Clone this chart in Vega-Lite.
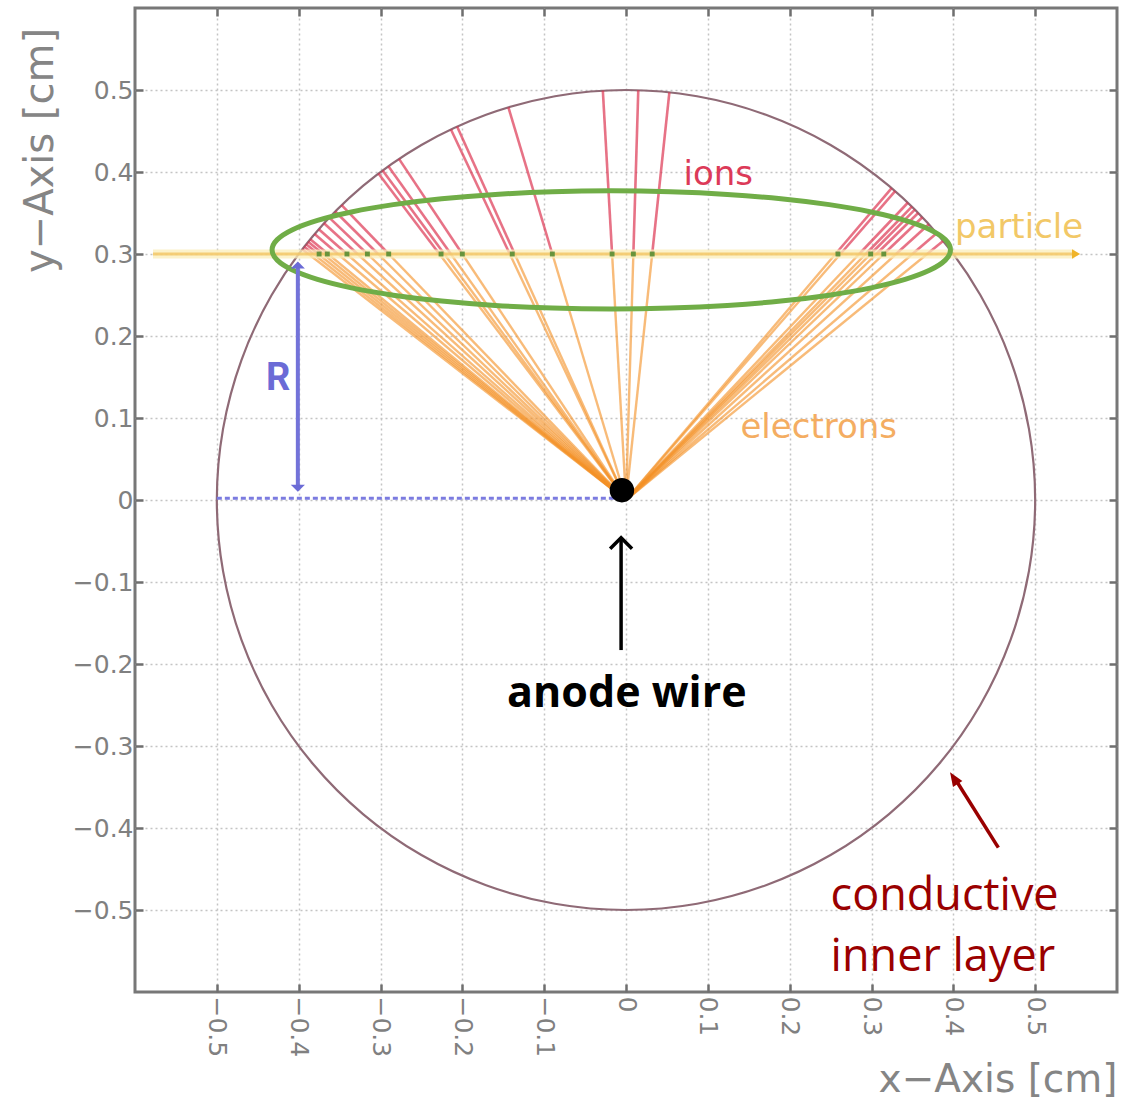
{
  "$schema": "https://vega.github.io/schema/vega-lite/v6.json",
  "width": 982,
  "height": 984,
  "autosize": {"type": "none"},
  "padding": {"left": 135, "top": 8, "right": 20, "bottom": 109},
  "background": "white",
  "config": {"view": {"stroke": "#777777", "strokeWidth": 3}},
  "datasets": {
    "circle": [
      {"i":0,"x":0.5,"y":0},{"i":10,"x":0.4924,"y":0.0868},{"i":20,"x":0.4698,"y":0.171},{"i":30,"x":0.433,"y":0.25},
      {"i":40,"x":0.383,"y":0.3214},{"i":50,"x":0.3214,"y":0.383},{"i":60,"x":0.25,"y":0.433},{"i":70,"x":0.171,"y":0.4698},
      {"i":80,"x":0.0868,"y":0.4924},{"i":90,"x":0,"y":0.5},{"i":100,"x":-0.0868,"y":0.4924},{"i":110,"x":-0.171,"y":0.4698},
      {"i":120,"x":-0.25,"y":0.433},{"i":130,"x":-0.3214,"y":0.383},{"i":140,"x":-0.383,"y":0.3214},{"i":150,"x":-0.433,"y":0.25},
      {"i":160,"x":-0.4698,"y":0.171},{"i":170,"x":-0.4924,"y":0.0868},{"i":180,"x":-0.5,"y":0},{"i":190,"x":-0.4924,"y":-0.0868},
      {"i":200,"x":-0.4698,"y":-0.171},{"i":210,"x":-0.433,"y":-0.25},{"i":220,"x":-0.383,"y":-0.3214},{"i":230,"x":-0.3214,"y":-0.383},
      {"i":240,"x":-0.25,"y":-0.433},{"i":250,"x":-0.171,"y":-0.4698},{"i":260,"x":-0.0868,"y":-0.4924},{"i":270,"x":0,"y":-0.5},
      {"i":280,"x":0.0868,"y":-0.4924},{"i":290,"x":0.171,"y":-0.4698},{"i":300,"x":0.25,"y":-0.433},{"i":310,"x":0.3214,"y":-0.383},
      {"i":320,"x":0.383,"y":-0.3214},{"i":330,"x":0.433,"y":-0.25},{"i":340,"x":0.4698,"y":-0.171},{"i":350,"x":0.4924,"y":-0.0868}
    ],
    "ellipse": [
      {"i":0,"x":0.3965,"y":0.305},{"i":10,"x":0.3902,"y":0.3175},{"i":20,"x":0.3715,"y":0.3296},{"i":30,"x":0.341,"y":0.341},
      {"i":40,"x":0.2995,"y":0.3513},{"i":50,"x":0.2484,"y":0.3602},{"i":60,"x":0.1893,"y":0.3674},{"i":70,"x":0.1238,"y":0.3727},
      {"i":80,"x":0.054,"y":0.3759},{"i":90,"x":-0.018,"y":0.377},{"i":100,"x":-0.09,"y":0.3759},{"i":110,"x":-0.1598,"y":0.3727},
      {"i":120,"x":-0.2253,"y":0.3674},{"i":130,"x":-0.2844,"y":0.3602},{"i":140,"x":-0.3355,"y":0.3513},{"i":150,"x":-0.377,"y":0.341},
      {"i":160,"x":-0.4075,"y":0.3296},{"i":170,"x":-0.4262,"y":0.3175},{"i":180,"x":-0.4325,"y":0.305},{"i":190,"x":-0.4262,"y":0.2925},
      {"i":200,"x":-0.4075,"y":0.2804},{"i":210,"x":-0.377,"y":0.269},{"i":220,"x":-0.3355,"y":0.2587},{"i":230,"x":-0.2844,"y":0.2498},
      {"i":240,"x":-0.2253,"y":0.2426},{"i":250,"x":-0.1598,"y":0.2373},{"i":260,"x":-0.09,"y":0.2341},{"i":270,"x":-0.018,"y":0.233},
      {"i":280,"x":0.054,"y":0.2341},{"i":290,"x":0.1238,"y":0.2373},{"i":300,"x":0.1893,"y":0.2426},{"i":310,"x":0.2484,"y":0.2498},
      {"i":320,"x":0.2995,"y":0.2587},{"i":330,"x":0.341,"y":0.269},{"i":340,"x":0.3715,"y":0.2804},{"i":350,"x":0.3902,"y":0.2925}
    ],
    "electrons": [
      {"x":0,"y":0,"x2":-0.388,"y2":0.3},{"x":0,"y":0,"x2":-0.382,"y2":0.3},{"x":0,"y":0,"x2":-0.376,"y2":0.3},
      {"x":0,"y":0,"x2":-0.37,"y2":0.3},{"x":0,"y":0,"x2":-0.364,"y2":0.3},{"x":0,"y":0,"x2":-0.352,"y2":0.3},
      {"x":0,"y":0,"x2":-0.341,"y2":0.3},{"x":0,"y":0,"x2":-0.328,"y2":0.3},{"x":0,"y":0,"x2":-0.316,"y2":0.3},
      {"x":0,"y":0,"x2":-0.303,"y2":0.3},{"x":0,"y":0,"x2":-0.29,"y2":0.3},{"x":0,"y":0,"x2":-0.228,"y2":0.3},
      {"x":0,"y":0,"x2":-0.222,"y2":0.3},{"x":0,"y":0,"x2":-0.214,"y2":0.3},{"x":0,"y":0,"x2":-0.2,"y2":0.3},
      {"x":0,"y":0,"x2":-0.142,"y2":0.3},{"x":0,"y":0,"x2":-0.136,"y2":0.3},{"x":0,"y":0,"x2":-0.09,"y2":0.3},
      {"x":0,"y":0,"x2":-0.017,"y2":0.3},{"x":0,"y":0,"x2":0.009,"y2":0.3},{"x":0,"y":0,"x2":0.032,"y2":0.3},
      {"x":0,"y":0,"x2":0.256,"y2":0.3},{"x":0,"y":0,"x2":0.262,"y2":0.3},{"x":0,"y":0,"x2":0.285,"y2":0.3},
      {"x":0,"y":0,"x2":0.293,"y2":0.3},{"x":0,"y":0,"x2":0.299,"y2":0.3},{"x":0,"y":0,"x2":0.306,"y2":0.3},
      {"x":0,"y":0,"x2":0.315,"y2":0.3},{"x":0,"y":0,"x2":0.33,"y2":0.3},{"x":0,"y":0,"x2":0.35,"y2":0.3},
      {"x":0,"y":0,"x2":0.368,"y2":0.3}
    ],
    "ions": [
      {"x":-0.388,"y":0.3,"x2":-0.3956,"y2":0.3058},{"x":-0.382,"y":0.3,"x2":-0.3932,"y2":0.3088},{"x":-0.376,"y":0.3,"x2":-0.3908,"y2":0.3118},
      {"x":-0.37,"y":0.3,"x2":-0.3884,"y2":0.3149},{"x":-0.364,"y":0.3,"x2":-0.3858,"y2":0.318},{"x":-0.352,"y":0.3,"x2":-0.3805,"y2":0.3243},
      {"x":-0.341,"y":0.3,"x2":-0.3754,"y2":0.3303},{"x":-0.328,"y":0.3,"x2":-0.369,"y2":0.3375},{"x":-0.316,"y":0.3,"x2":-0.3626,"y2":0.3443},
      {"x":-0.303,"y":0.3,"x2":-0.3553,"y2":0.3518},{"x":-0.29,"y":0.3,"x2":-0.3475,"y2":0.3595},{"x":-0.228,"y":0.3,"x2":-0.3025,"y2":0.3981},
      {"x":-0.222,"y":0.3,"x2":-0.2974,"y2":0.4019},{"x":-0.214,"y":0.3,"x2":-0.2904,"y2":0.407},{"x":-0.2,"y":0.3,"x2":-0.2774,"y2":0.416},
      {"x":-0.142,"y":0.3,"x2":-0.2139,"y2":0.4519},{"x":-0.136,"y":0.3,"x2":-0.2064,"y2":0.4554},{"x":-0.09,"y":0.3,"x2":-0.1437,"y2":0.4789},
      {"x":-0.017,"y":0.3,"x2":-0.0283,"y2":0.4992},{"x":0.009,"y":0.3,"x2":0.015,"y2":0.4998},{"x":0.032,"y":0.3,"x2":0.053,"y2":0.4972},
      {"x":0.256,"y":0.3,"x2":0.3246,"y2":0.3803},{"x":0.262,"y":0.3,"x2":0.3289,"y2":0.3766},{"x":0.285,"y":0.3,"x2":0.3444,"y2":0.3625},
      {"x":0.293,"y":0.3,"x2":0.3494,"y2":0.3577},{"x":0.299,"y":0.3,"x2":0.353,"y2":0.3541},{"x":0.306,"y":0.3,"x2":0.357,"y2":0.35},
      {"x":0.315,"y":0.3,"x2":0.3621,"y2":0.3448},{"x":0.33,"y":0.3,"x2":0.37,"y2":0.3363},{"x":0.35,"y":0.3,"x2":0.3796,"y2":0.3254},
      {"x":0.368,"y":0.3,"x2":0.3875,"y2":0.3159}
    ],
    "clusters": [
      {"x":-0.375,"y":0.3},{"x":-0.365,"y":0.3},{"x":-0.341,"y":0.3},{"x":-0.316,"y":0.3},{"x":-0.29,"y":0.3},
      {"x":-0.226,"y":0.3},{"x":-0.2,"y":0.3},{"x":-0.139,"y":0.3},{"x":-0.09,"y":0.3},{"x":-0.017,"y":0.3},
      {"x":0.009,"y":0.3},{"x":0.032,"y":0.3},{"x":0.259,"y":0.3},{"x":0.299,"y":0.3},{"x":0.315,"y":0.3}
    ]
  },
  "encoding": {
    "x": {"field": "x", "type": "quantitative", "scale": {"domain": [-0.6, 0.6], "nice": false, "zero": false}, "axis": null},
    "y": {"field": "y", "type": "quantitative", "scale": {"domain": [-0.6, 0.6], "nice": false, "zero": false}, "axis": null}
  },
  "layer": [
    {
      "data": {"name": "circle"},
      "mark": {"type": "line", "interpolate": "cardinal-closed", "stroke": "#8f6a76", "strokeWidth": 2.2},
      "encoding": {
        "order": {"field": "i", "type": "quantitative"},
        "x": {"field": "x", "type": "quantitative", "scale": {"domain": [-0.6, 0.6], "nice": false, "zero": false},
          "axis": {"orient": "bottom", "values": [-0.5,-0.4,-0.3,-0.2,-0.1,0,0.1,0.2,0.3,0.4,0.5], "format": ".1~f",
            "labelAngle": 90, "labelAlign": "left", "labelBaseline": "middle", "labelFont": "DejaVu Sans", "labelFontSize": 25,
            "labelColor": "#808080", "labelPadding": 12, "tickSize": -8, "tickWidth": 2.5, "tickColor": "#6f6f6f", "domain": false,
            "grid": true, "gridColor": "#c4c4c4", "gridDash": [2, 3], "gridWidth": 1.5,
            "title": "x−Axis [cm]", "titleFont": "DejaVu Sans", "titleFontSize": 39, "titleFontWeight": "normal", "titleColor": "#858585",
            "titleAnchor": "end", "titleAlign": "right", "titleBaseline": "alphabetic", "titleY": 99}},
        "y": {"field": "y", "type": "quantitative", "scale": {"domain": [-0.6, 0.6], "nice": false, "zero": false},
          "axis": {"orient": "left", "values": [-0.5,-0.4,-0.3,-0.2,-0.1,0,0.1,0.2,0.3,0.4,0.5], "format": ".1~f",
            "labelFont": "DejaVu Sans", "labelFontSize": 25, "labelColor": "#808080", "labelPadding": 10,
            "tickSize": -8, "tickWidth": 2.5, "tickColor": "#6f6f6f", "domain": false,
            "grid": true, "gridColor": "#c4c4c4", "gridDash": [2, 3], "gridWidth": 1.5,
            "title": "y−Axis [cm]", "titleFont": "DejaVu Sans", "titleFontSize": 40, "titleFontWeight": "normal", "titleColor": "#858585",
            "titleAngle": 270, "titleAlign": "center", "titleBaseline": "middle", "titleX": -95, "titleY": 142}}
      }
    },
    {
      "data": {"name": "electrons"},
      "mark": {"type": "rule", "stroke": "#f39226", "strokeWidth": 2.4, "strokeOpacity": 0.62},
      "encoding": {"x2": {"field": "x2"}, "y2": {"field": "y2"}}
    },
    {
      "data": {"name": "ions"},
      "mark": {"type": "rule", "stroke": "#dc2f4c", "strokeWidth": 2.6, "strokeOpacity": 0.68},
      "encoding": {"x2": {"field": "x2"}, "y2": {"field": "y2"}}
    },
    {
      "data": {"values": [{"x": -0.578, "y": 0.3, "x2": 0.548, "y2": 0.3}]},
      "mark": {"type": "rule", "stroke": "#fbeeb8", "strokeWidth": 9, "strokeOpacity": 0.75},
      "encoding": {"x2": {"field": "x2"}, "y2": {"field": "y2"}}
    },
    {
      "data": {"values": [{"x": -0.578, "y": 0.3, "x2": 0.548, "y2": 0.3}]},
      "mark": {"type": "rule", "stroke": "#f2c462", "strokeWidth": 3, "strokeOpacity": 0.8},
      "encoding": {"x2": {"field": "x2"}, "y2": {"field": "y2"}}
    },
    {
      "data": {"values": [{"x": 0.55, "y": 0.3}]},
      "mark": {"type": "point", "shape": "triangle-right", "filled": true, "color": "#f0b428", "size": 90, "opacity": 1}
    },
    {
      "data": {"name": "clusters"},
      "mark": {"type": "point", "shape": "square", "filled": true, "color": "#4f8a30", "size": 24, "opacity": 0.85},
      "encoding": {
        "x": {"field": "x", "type": "quantitative", "scale": {"domain": [-0.6, 0.6], "nice": false, "zero": false},
          "axis": {"orient": "top", "values": [-0.5,-0.4,-0.3,-0.2,-0.1,0,0.1,0.2,0.3,0.4,0.5], "labels": false, "grid": false,
            "domain": false, "tickSize": -8, "tickWidth": 2.5, "tickColor": "#6f6f6f", "title": null}},
        "y": {"field": "y", "type": "quantitative", "scale": {"domain": [-0.6, 0.6], "nice": false, "zero": false},
          "axis": {"orient": "right", "values": [-0.5,-0.4,-0.3,-0.2,-0.1,0,0.1,0.2,0.3,0.4,0.5], "labels": false, "grid": false,
            "domain": false, "tickSize": -8, "tickWidth": 2.5, "tickColor": "#6f6f6f", "title": null}}
      }
    },
    {
      "data": {"name": "ellipse"},
      "mark": {"type": "line", "interpolate": "cardinal-closed", "stroke": "#70ad47", "strokeWidth": 5},
      "encoding": {"order": {"field": "i", "type": "quantitative"}}
    },
    {
      "data": {"values": [{"x": -0.5, "y": 0.002, "x2": -0.006, "y2": 0.002}]},
      "mark": {"type": "rule", "stroke": "#7b7be0", "strokeWidth": 3, "strokeDash": [5, 3]},
      "encoding": {"x2": {"field": "x2"}, "y2": {"field": "y2"}}
    },
    {
      "data": {"values": [{"x": -0.401, "y": 0.285, "x2": -0.401, "y2": 0.016}]},
      "mark": {"type": "rule", "stroke": "#7373d9", "strokeWidth": 4},
      "encoding": {"x2": {"field": "x2"}, "y2": {"field": "y2"}}
    },
    {
      "data": {"values": [{"x": -0.401, "y": 0.291}]},
      "mark": {"type": "point", "shape": "M 0 0 L 1 1 L -1 1 Z", "filled": true, "color": "#6b6bd6", "size": 200, "opacity": 1}
    },
    {
      "data": {"values": [{"x": -0.401, "y": 0.01}]},
      "mark": {"type": "point", "shape": "M 0 0 L 1 -1 L -1 -1 Z", "filled": true, "color": "#6b6bd6", "size": 200, "opacity": 1}
    },
    {
      "data": {"values": [{"x": -0.005, "y": 0.012}]},
      "mark": {"type": "point", "shape": "circle", "filled": true, "color": "#000000", "size": 600, "opacity": 1}
    },
    {
      "data": {"values": [{"x": -0.006, "y": -0.183, "x2": -0.006, "y2": -0.047}]},
      "mark": {"type": "rule", "stroke": "#000000", "strokeWidth": 3.5},
      "encoding": {"x2": {"field": "x2"}, "y2": {"field": "y2"}}
    },
    {
      "data": {"values": [{"x": -0.006, "y": -0.046}]},
      "mark": {"type": "point", "shape": "M -1 1 L 0 0 L 1 1", "filled": false, "stroke": "#000000", "strokeWidth": 3.5, "size": 480, "opacity": 1}
    },
    {
      "data": {"values": [{"x": 0.455, "y": -0.424, "x2": 0.404, "y2": -0.343}]},
      "mark": {"type": "rule", "stroke": "#990000", "strokeWidth": 3.5},
      "encoding": {"x2": {"field": "x2"}, "y2": {"field": "y2"}}
    },
    {
      "data": {"values": [{"x": 0.396, "y": -0.332}]},
      "mark": {"type": "point", "shape": "M 0 0 L 0.8 2 L -0.8 2 Z", "filled": true, "color": "#990000", "size": 196, "angle": 327, "opacity": 1}
    },
    {
      "data": {"values": [{"x": 0.0702, "y": 0.3846, "label": "ions"}]},
      "mark": {"type": "text", "align": "left", "baseline": "alphabetic", "font": "DejaVu Sans", "fontSize": 34, "color": "#dc3a58"},
      "encoding": {"text": {"field": "label"}}
    },
    {
      "data": {"values": [{"x": 0.402, "y": 0.32, "label": "particle"}]},
      "mark": {"type": "text", "align": "left", "baseline": "alphabetic", "font": "DejaVu Sans", "fontSize": 34, "color": "#f2c867"},
      "encoding": {"text": {"field": "label"}}
    },
    {
      "data": {"values": [{"x": 0.1398, "y": 0.0757, "label": "electrons"}]},
      "mark": {"type": "text", "align": "left", "baseline": "alphabetic", "font": "DejaVu Sans", "fontSize": 34, "color": "#f4ad62"},
      "encoding": {"text": {"field": "label"}}
    },
    {
      "data": {"values": [{"x": -0.425, "y": 0.1343, "label": "R"}]},
      "mark": {"type": "text", "align": "center", "baseline": "alphabetic", "font": "Roboto", "fontWeight": "bold", "fontSize": 38, "color": "#6b6bd6"},
      "encoding": {"text": {"field": "label"}}
    },
    {
      "data": {"values": [{"x": 0.001, "y": -0.2527, "label": "anode wire"}]},
      "mark": {"type": "text", "align": "center", "baseline": "alphabetic", "font": "Open Sans", "fontWeight": "bold", "fontSize": 43, "color": "#000000"},
      "encoding": {"text": {"field": "label"}}
    },
    {
      "data": {"values": [{"x": 0.25, "y": -0.4994, "label": "conductive"}, {"x": 0.25, "y": -0.5739, "label": "inner layer"}]},
      "mark": {"type": "text", "align": "left", "baseline": "alphabetic", "font": "Open Sans", "fontSize": 45, "color": "#9a0000"},
      "encoding": {"text": {"field": "label"}}
    }
  ],
  "resolve": {"axis": {"x": "independent", "y": "independent"}}
}
